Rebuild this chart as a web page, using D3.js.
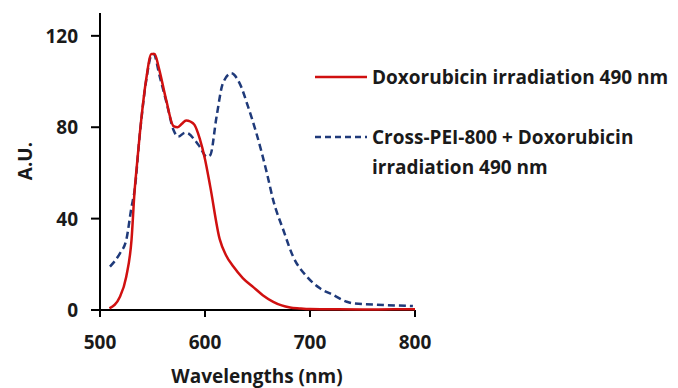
<!DOCTYPE html>
<html>
<head>
<meta charset="utf-8">
<script src="https://cdn.jsdelivr.net/npm/d3@7"></script>
<style>
body{margin:0;background:#fff;}
text{font-family:"Open Sans",Lato,sans-serif;font-weight:bold;fill:#1a1a1a;}
</style>
</head>
<body>
<script>
// data
var doxWave = [509,519,525,530,533,535,538,544,549,552,556,563,570,574,578,582,586,590,595,600,605,614,620,627,636,646,655,665,673,681,690,700,720,750,780,800];
var doxValue = [0.7,5.8,14.6,30.6,52.5,62.7,77.5,101,112,112,106,92,80.5,80,81.5,83,82.5,81,75,66,54,31,24,19,14,10,6.5,3.6,2,1.1,0.7,0.4,0.3,0.2,0.3,0.3];
var crossWave = [509.5,519,525,530,533,538,544.5,549,551,557,563.5,570,574.6,581,585,589,595,601.6,605,611,617,625,633,641,649,659,665,674.6,684,697,709.5,722,735,741,770,798];
var crossValue = [19,24.8,30.6,45,52.5,77.3,102,111.6,112,102,90.5,78.8,75.9,77.6,77,75.1,71.5,67.1,67.8,84.6,99.2,103.6,99.2,89,77.3,59.8,48,35,23.3,14.6,9.5,6.6,3.6,2.9,2.2,1.7];
var xTicks = [500,600,700,800];
var yTicks = [0,40,80,120];
var legendLabels = [["Doxorubicin irradiation 490 nm"],["Cross-PEI-800 + Doxorubicin","irradiation 490 nm"]];

var width = 678, height = 388;
var svg = d3.select("body").append("svg").attr("width",width).attr("height",height);

var x = d3.scaleLinear().domain([500,800]).range([100,415]);
var y = d3.scaleLinear().domain([0,130]).range([310,13]);

// y axis
svg.append("line").attr("x1",x(500)).attr("x2",x(500)).attr("y1",y(0)).attr("y2",y(130))
    .attr("stroke","#000").attr("stroke-width",2);
svg.selectAll(".ytick").data(yTicks).enter().append("line")
    .attr("x1",x(500)-9).attr("x2",x(500))
    .attr("y1",function(d){return y(d);}).attr("y2",function(d){return y(d);})
    .attr("stroke","#000").attr("stroke-width",2);
svg.selectAll(".ylab").data(yTicks).enter().append("text")
    .attr("x",78).attr("y",function(d){return y(d)+7;})
    .attr("text-anchor","end").attr("font-size",19)
    .text(function(d){return d;});

// x axis
svg.append("line").attr("x1",x(500)-9).attr("x2",x(800)).attr("y1",y(0)).attr("y2",y(0))
    .attr("stroke","#000").attr("stroke-width",2);
svg.selectAll(".xtick").data(xTicks).enter().append("line")
    .attr("x1",function(d){return x(d);}).attr("x2",function(d){return x(d);})
    .attr("y1",y(0)).attr("y2",y(0)+7)
    .attr("stroke","#000").attr("stroke-width",2);
svg.selectAll(".xlab").data(xTicks).enter().append("text")
    .attr("x",function(d){return x(d);}).attr("y",349)
    .attr("text-anchor","middle").attr("font-size",19)
    .text(function(d){return d;});

svg.append("text").attr("x",257).attr("y",383).attr("text-anchor","middle")
    .attr("font-size",19).text("Wavelengths (nm)");
svg.append("text").attr("transform","translate(32,161) rotate(-90)")
    .attr("text-anchor","middle").attr("font-size",19).text("A.U.");

var line = d3.line().curve(d3.curveMonotoneX)
    .x(function(d){return x(d[0]);}).y(function(d){return y(d[1]);});

svg.append("path").datum(d3.zip(crossWave,crossValue))
    .attr("d",line).attr("fill","none").attr("stroke","#1f3a7a")
    .attr("stroke-width",2.5).attr("stroke-dasharray","7,4");
svg.append("path").datum(d3.zip(doxWave,doxValue))
    .attr("d",line).attr("fill","none").attr("stroke","#d01010")
    .attr("stroke-width",2.5);

// legend
var legY = [77,137];
var legStyle = [{c:"#d01010",dash:null},{c:"#1f3a7a",dash:"6,4"}];
legendLabels.forEach(function(lines,i){
    svg.append("line").attr("x1",315).attr("x2",367).attr("y1",legY[i]).attr("y2",legY[i])
        .attr("stroke",legStyle[i].c).attr("stroke-width",2.5)
        .attr("stroke-dasharray",legStyle[i].dash);
    lines.forEach(function(t,j){
        svg.append("text").attr("x",372).attr("y",legY[i]+7+j*30)
            .attr("font-size",19).text(t);
    });
});
</script>
</body>
</html>
